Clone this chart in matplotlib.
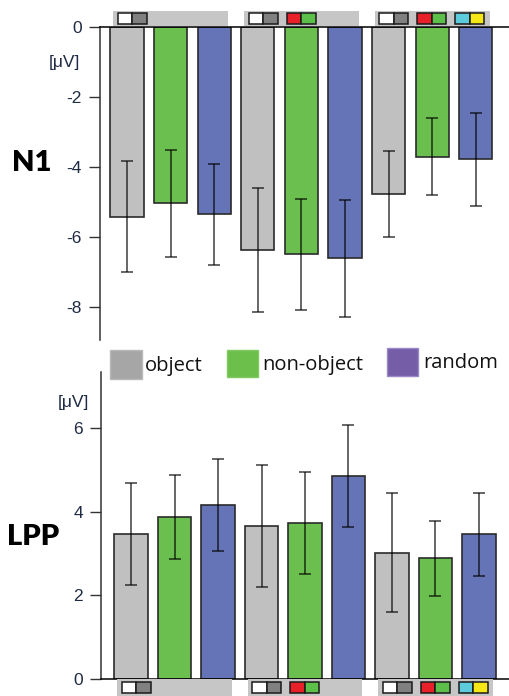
import matplotlib
matplotlib.use("Agg")
import matplotlib.pyplot as plt
from matplotlib.patches import Rectangle
from matplotlib.transforms import blended_transform_factory

# ---- data: 3 stimulus sets x 3 conditions (object, non-object, random) ----
conditions = ["object", "non-object", "random"]
n1_mean = [-5.42, -5.03, -5.35, -6.37, -6.49, -6.60, -4.77, -3.70, -3.78]
n1_err = [1.58, 1.53, 1.45, 1.76, 1.58, 1.67, 1.23, 1.10, 1.32]
lpp_mean = [3.46, 3.88, 4.17, 3.67, 3.73, 4.86, 3.02, 2.89, 3.46]
lpp_err = [1.22, 1.00, 1.10, 1.46, 1.23, 1.22, 1.42, 0.90, 1.00]
n1_ticks = [0, -2, -4, -6, -8]
lpp_ticks = [0, 2, 4, 6]
unit_label = "[\u03bcV]"

# colour pairs shown in the stimulus-set strips
stimulus_sets = [
    [("#FFFFFF", "#808080")],
    [("#FFFFFF", "#808080"), ("#E8202A", "#5CBF4A")],
    [("#FFFFFF", "#808080"), ("#E8202A", "#5CBF4A"), ("#5CCCDC", "#F6E816")],
]

bar_colors = ["#C0C0C0", "#6BBF4F", "#6574B6"]
legend_colors = ["#A6A6A6", "#6DBF4B", "#765DA8"]
legend_edges = ["#B8B8B8", "#7FCB60", "#9A89C6"]
tick_color = "#1f2a44"

W, H = 510, 696
fig = plt.figure(figsize=(W / 100, H / 100), dpi=100)


def fx(px):
    return px / W


def fy(py):
    return 1 - py / H


def axes_box(left, top, right, bottom):
    return [fx(left), fy(bottom), (right - left) / W, (bottom - top) / H]


x = list(range(len(n1_mean)))
colors = [bar_colors[i % 3] for i in x]


def style_axis(ax, ticks):
    ax.set_yticks(ticks)
    ax.set_yticklabels([str(t) for t in ticks])
    ax.set_xticks([])
    ax.tick_params(axis="y", direction="out", length=8, width=1.0,
                   color="#333333", pad=5, labelsize=12.5,
                   labelcolor=tick_color)
    for lab in ax.get_yticklabels():
        lab.set_fontfamily("Liberation Sans")
    ax.spines["right"].set_visible(False)
    ax.spines["left"].set_color("#333333")
    ax.spines["left"].set_linewidth(1.1)


def draw_bars(ax, mean, err):
    ax.bar(x, mean, width=0.76, color=colors, edgecolor="#2b2b2b",
           linewidth=1.2, zorder=2)
    ax.errorbar(x, mean, yerr=err, fmt="none", ecolor="black", alpha=0.6,
                elinewidth=1.4, capsize=4.3, capthick=1.4, zorder=3)


def draw_strips(ax, strip_top, strip_bot, icon_top, icon_bot):
    trans = blended_transform_factory(ax.transData, fig.transFigure)
    half = 1.32
    sq = 0.333
    for g, pairs in enumerate(stimulus_sets):
        cx = 3 * g + 1
        left = cx - half
        fig.add_artist(Rectangle((left, fy(strip_bot)), 2 * half,
                                 (strip_bot - strip_top) / H,
                                 transform=trans, facecolor="#C6C6C6",
                                 edgecolor="none", clip_on=False))
        for k, pair in enumerate(pairs):
            x0 = left + 0.11 + k * 0.87
            for j, col in enumerate(pair):
                fig.add_artist(Rectangle((x0 + j * sq, fy(icon_bot)), sq,
                                         (icon_bot - icon_top) / H,
                                         transform=trans, facecolor=col,
                                         edgecolor="#1a1a1a", linewidth=1.1,
                                         clip_on=False))


# ---- N1 panel (negative values hanging from zero) ----
ax1 = fig.add_axes(axes_box(100, 27, 510, 340))
ax1.set_xlim(-0.619, 8.784)
ax1.set_ylim(-8.94, 0)
draw_bars(ax1, n1_mean, n1_err)
style_axis(ax1, n1_ticks)
ax1.spines["bottom"].set_visible(False)
ax1.spines["top"].set_color("black")
ax1.spines["top"].set_linewidth(1.1)
draw_strips(ax1, 11, 25.7, 12.7, 24.3)

# ---- LPP panel ----
ax2 = fig.add_axes(axes_box(101, 371.7, 510, 679))
ax2.set_xlim(-0.69, 8.713)
ax2.set_ylim(0, 7.35)
draw_bars(ax2, lpp_mean, lpp_err)
style_axis(ax2, lpp_ticks)
ax2.spines["top"].set_visible(False)
ax2.spines["bottom"].set_color("black")
ax2.spines["bottom"].set_linewidth(1.1)
draw_strips(ax2, 679, 697, 681.7, 693.3)

# ---- panel names and units ----
fig.text(fx(12), fy(163), "N1", fontsize=21, fontweight="heavy",
         family="Lato", ha="left", va="center", color="black")
fig.text(fx(7), fy(537), "LPP", fontsize=21, fontweight="heavy",
         family="Lato", ha="left", va="center", color="black")
fig.text(fx(80), fy(62.5), unit_label, fontsize=12.5,
         family="Liberation Sans", ha="right", va="center", color=tick_color)
fig.text(fx(89), fy(402.5), unit_label, fontsize=12.5,
         family="Liberation Sans", ha="right", va="center", color=tick_color)

# ---- legend ----
legend_boxes = [(110, 350, 141.7, 379), (226.7, 350, 258.3, 377.3),
                (387.3, 348.3, 418.3, 376)]
legend_text = [(145, 370.7), (262.7, 370), (423.3, 368.3)]
for name, col, ec, (l, t, r, b), (tx, ty) in zip(
        conditions, legend_colors, legend_edges, legend_boxes, legend_text):
    fig.add_artist(Rectangle((fx(l), fy(b)), (r - l) / W, (b - t) / H,
                             transform=fig.transFigure, facecolor=col,
                             edgecolor=ec, linewidth=1.0))
    fig.text(fx(tx), fy(ty), name, fontsize=14.5, family="Open Sans",
             ha="left", va="baseline", color="#111111")

fig.savefig("out.png", dpi=100)
